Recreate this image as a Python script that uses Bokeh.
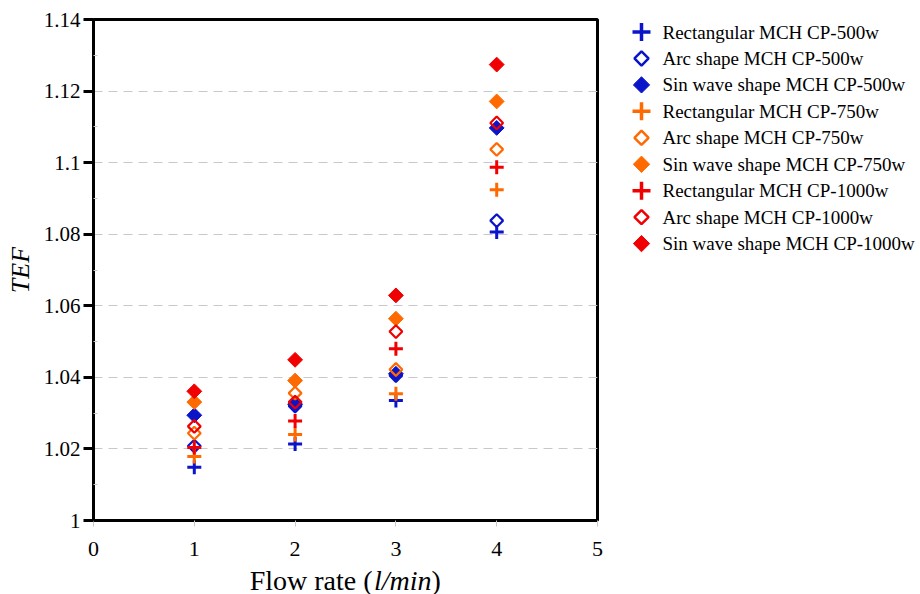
import numpy as np
from bokeh.plotting import figure
from bokeh.models import Range1d, FixedTicker
from bokeh.layouts import row, column
from bokeh.core.properties import value
from bokeh.embed import file_html
from bokeh.resources import INLINE

# ---------------- data ----------------
flow = [1, 2, 3, 4]
rect_500 = [1.0149, 1.0214, 1.0335, 1.0806]
arc_500 = [1.0208, 1.0320, 1.0405, 1.0838]
sin_500 = [1.0294, 1.0325, 1.0410, 1.1097]
rect_750 = [1.0179, 1.0240, 1.0354, 1.0924]
arc_750 = [1.0244, 1.0356, 1.0422, 1.1037]
sin_750 = [1.0331, 1.0391, 1.0564, 1.1171]
rect_1000 = [1.0204, 1.0278, 1.0480, 1.0987]
arc_1000 = [1.0263, 1.0331, 1.0528, 1.1111]
sin_1000 = [1.0361, 1.0449, 1.0629, 1.1274]

series_names = [
    "Rectangular MCH CP-500w", "Arc shape MCH CP-500w", "Sin wave shape MCH CP-500w",
    "Rectangular MCH CP-750w", "Arc shape MCH CP-750w", "Sin wave shape MCH CP-750w",
    "Rectangular MCH CP-1000w", "Arc shape MCH CP-1000w", "Sin wave shape MCH CP-1000w",
]
series_values = [rect_500, arc_500, sin_500, rect_750, arc_750, sin_750,
                 rect_1000, arc_1000, sin_1000]
series_kind = ["plus", "open", "filled"] * 3
BLUE, ORANGE, RED = "#0a14c8", "#ff6a00", "#f00000"
series_colors = [BLUE] * 3 + [ORANGE] * 3 + [RED] * 3

x_ticks = [0, 1, 2, 3, 4, 5]
x_tick_labels = ["0", "1", "2", "3", "4", "5"]
y_ticks = [1.0, 1.02, 1.04, 1.06, 1.08, 1.1, 1.12, 1.14]
y_tick_labels = ["1", "1.02", "1.04", "1.06", "1.08", "1.1", "1.12", "1.14"]
y_minor = [1.01, 1.03, 1.05, 1.07, 1.09, 1.11, 1.13]

x_title_parts = ["Flow rate (", "l/min", ")"]
x_title_styles = ["normal", "italic", "normal"]

FONT = "Liberation Serif"
W, H = 920, 594
LEFT, TOP, FW, FH, BOT = 93, 19, 504, 501, 10
PLOT_W = LEFT + FW + 3
px_per_x = FW / 5.0

# ---------------- main plot ----------------
p = figure(frame_width=FW, frame_height=FH, x_range=Range1d(0, 5), y_range=Range1d(1.0, 1.14),
           output_backend="svg", toolbar_location=None, title=None,
           min_border_left=LEFT, min_border_right=3, min_border_top=TOP, min_border_bottom=BOT)
p.background_fill_color = "white"
p.border_fill_color = "white"
p.outline_line_color = "black"
p.outline_line_width = 3

p.xgrid.visible = False
p.ygrid.ticker = FixedTicker(ticks=y_ticks)
p.ygrid.grid_line_color = "#c8c8c8"
p.ygrid.grid_line_dash = "9 6"
p.ygrid.grid_line_width = 1

# x axis (tick labels are drawn in the strip below)
xa = p.xaxis[0]
xa.ticker = FixedTicker(ticks=x_ticks)
xa.axis_line_width = 3
xa.axis_line_color = "black"
xa.major_tick_line_color = "#c8c8c8"
xa.major_tick_out = 6
xa.major_tick_in = 0
xa.minor_tick_line_color = None
xa.major_label_overrides = {t: " " for t in x_ticks}
xa.major_label_text_font_size = "1px"
xa.major_label_standoff = 0

# y axis
ya = p.yaxis[0]
ya.ticker = FixedTicker(ticks=y_ticks, minor_ticks=y_minor)
ya.major_label_overrides = {t: lab for t, lab in zip(y_ticks, y_tick_labels)}
ya.axis_line_width = 3
ya.axis_line_color = "black"
ya.major_tick_line_color = "black"
ya.major_tick_line_width = 3
ya.major_tick_out = 10
ya.major_tick_in = 0
ya.minor_tick_line_color = "#c8c8c8"
ya.minor_tick_in = 4
ya.minor_tick_out = 0
ya.major_label_text_font = FONT
ya.major_label_text_font_size = "21px"
ya.major_label_text_color = "black"
ya.major_label_standoff = 3
ya.axis_label = "TEF"
ya.axis_label_text_font = FONT
ya.axis_label_text_font_style = "italic"
ya.axis_label_text_font_size = "26px"
ya.axis_label_text_color = "black"
ya.axis_label_standoff = 6

# markers
def draw(fig, xs, ys, kind, color, big=False):
    if kind == "plus":
        fig.scatter(xs, ys, marker="cross", size=18 if big else 14,
                    line_color=color, line_width=3.5 if big else 3)
    elif kind == "open":
        fig.scatter(xs, ys, marker="square", angle=np.pi / 4, size=10 if big else 9,
                    line_color=color, line_width=2.5 if big else 2.2, fill_alpha=0)
    else:
        fig.scatter(xs, ys, marker="square", angle=np.pi / 4, size=11.5 if big else 10.5,
                    line_color=color, line_width=1, fill_color=color)

for vals, kind, col in zip(series_values, series_kind, series_colors):
    draw(p, flow, vals, kind, col)

def blank_fig(fw, fh, x_range, y_range, **kw):
    f = figure(frame_width=fw, frame_height=fh, x_range=x_range, y_range=y_range,
               output_backend="svg", toolbar_location=None, title=None, **kw)
    f.axis.visible = False
    f.grid.visible = False
    f.outline_line_color = None
    f.background_fill_color = "white"
    f.border_fill_color = "white"
    return f

# ---------------- legend panel (same vertical borders as the plot) ----------------
leg = blank_fig(W - PLOT_W, FH, Range1d(PLOT_W, W), Range1d(TOP + FH, TOP),
                min_border_left=0, min_border_right=0, min_border_top=TOP,
                min_border_bottom=BOT)
row_y = [31.5 + i * 26.45 for i in range(len(series_names))]
for i, (kind, col) in enumerate(zip(series_kind, series_colors)):
    draw(leg, [641], [row_y[i]], kind, col, big=True)
leg.text(x=[662] * len(series_names), y=row_y, text=series_names,
         text_font=value(FONT), text_font_size="19px", text_color="black",
         text_baseline="middle", text_align="left")

# ---------------- full-width strip: x tick labels + mixed roman/italic title ----------------
STRIP_TOP = TOP + FH + BOT
tfig = blank_fig(W, H - STRIP_TOP, Range1d(-LEFT / px_per_x, (W - LEFT) / px_per_x),
                 Range1d(H, STRIP_TOP), min_border=0)
tfig.text(x=x_ticks, y=[548] * len(x_ticks), text=x_tick_labels, text_font=value(FONT),
          text_font_size="22px", text_color="black", text_baseline="middle",
          text_align="center")
x_split = (372 - LEFT) / px_per_x
w_ital = 2.056 * 28 / px_per_x
part_x = [x_split, x_split + 1.5 / px_per_x, x_split + 1.5 / px_per_x + w_ital]
part_align = ["right", "left", "left"]
for txt, sty, xx, al in zip(x_title_parts, x_title_styles, part_x, part_align):
    tfig.text(x=[xx], y=[579.5], text=[txt], text_font=value(FONT), text_font_style=sty,
              text_font_size="28px", text_color="black", text_baseline="middle",
              text_align=al)

layout = column(row(p, leg, spacing=0), tfig, spacing=0)
open("out.html", "w").write(file_html(layout, INLINE))
